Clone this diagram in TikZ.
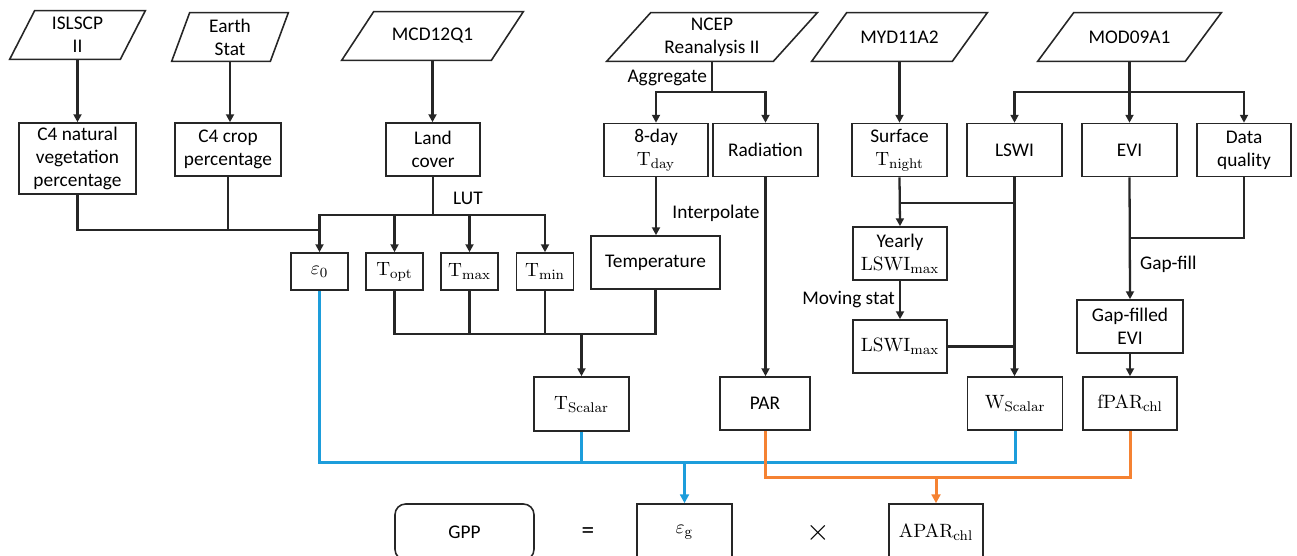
\documentclass[tikz,border=0pt]{standalone}
\usepackage[no-math]{fontspec}
\setmainfont{Carlito}
\usepackage{amsmath}
\usetikzlibrary{arrows.meta}
\definecolor{lineblue}{RGB}{29,157,219}
\definecolor{lineorange}{RGB}{245,130,50}

\begin{document}
\begin{tikzpicture}[x=0.02cm,y=-0.02cm,
  font=\fontsize{11}{13.2}\selectfont,
  procbox/.style={draw=black!85,line width=0.9pt,align=center,inner sep=1pt,minimum height=1.06cm},
  smallbox/.style={procbox,minimum width=1.14cm,minimum height=0.74cm},
  datanode/.style={align=center,inner sep=1pt,minimum height=0.96cm},
  dataedge/.style={draw=black!85,line width=0.9pt},
  flow/.style={line width=1.3pt,black!85},
  flowarrow/.style={flow,-{Triangle[length=4.5pt,width=4.5pt]}},
  blueflow/.style={line width=1.7pt,lineblue},
  orangeflow/.style={line width=1.7pt,lineorange},
  lbl/.style={inner sep=1pt}]
\useasboundingbox (0,0) rectangle (1297,555);

% data sources
\node[datanode,minimum width=2.7cm]  (isl)   at (77.5,35)  {ISLSCP\\II};
\node[datanode,minimum width=2.32cm] (earth) at (230,37)   {Earth\\Stat};
\node[datanode,minimum width=3.62cm] (mcd)   at (432.5,36) {MCD12Q1};
\node[datanode,minimum width=4.2cm]  (ncep)  at (712,37)   {NCEP\\Reanalysis II};
\node[datanode,minimum width=3.5cm]  (myd)   at (899.5,37) {MYD11A2};
\node[datanode,minimum width=3.66cm] (mod)   at (1129.5,37) {MOD09A1};
\foreach \n/\s in {isl/25,earth/18,mcd/32,ncep/44,myd/35,mod/36}
  \draw[dataedge] ([xshift=\s*0.02cm]\n.north west) -- (\n.north east)
    -- ([xshift=-\s*0.02cm]\n.south east) -- (\n.south west) -- cycle;

% first products
\node[procbox,minimum width=2.34cm,minimum height=1.42cm] (c4nat) at (77.5,158.5) {C4 natural\\vegetation\\percentage};
\node[procbox,minimum width=2.12cm] (c4crop) at (228,149.5) {C4 crop\\percentage};
\node[procbox,minimum width=1.88cm] (land)   at (433,149.5) {Land\\cover};
\node[procbox,minimum width=2.08cm] (tday)   at (656,150)   {8-day\\$\mathrm{T}_{\mathrm{day}}$};
\node[procbox,minimum width=2.1cm]  (rad)    at (765.5,150) {Radiation};
\node[procbox,minimum width=1.9cm]  (tnight) at (899.5,150) {Surface\\$\mathrm{T}_{\mathrm{night}}$};
\node[procbox,minimum width=1.9cm]  (lswi)   at (1014.5,150) {LSWI};
\node[procbox,minimum width=1.9cm]  (evi)    at (1129.5,150) {EVI};
\node[procbox,minimum width=1.88cm] (dq)     at (1244,150)  {Data\\quality};

% parameters
\node[smallbox] (eps0) at (319.5,271.5) {$\varepsilon_0$};
\node[smallbox] (topt) at (394.5,271.5) {$\mathrm{T}_{\mathrm{opt}}$};
\node[smallbox] (tmax) at (469.5,271.5) {$\mathrm{T}_{\mathrm{max}}$};
\node[smallbox] (tmin) at (545,271.5)   {$\mathrm{T}_{\mathrm{min}}$};
\node[procbox,minimum width=2.58cm] (temp)    at (655.5,262.5) {Temperature};
\node[procbox,minimum width=1.88cm] (yearly)  at (900,253.5)   {Yearly\\$\mathrm{LSWI}_{\mathrm{max}}$};
\node[procbox,minimum width=1.88cm] (lswimax) at (900,346.5)   {$\mathrm{LSWI}_{\mathrm{max}}$};
\node[procbox,minimum width=2.12cm] (gapevi)  at (1130,326.5)  {Gap-filled\\EVI};

% scalars
\node[procbox,minimum width=1.9cm,minimum height=1.08cm] (tscalar) at (581.5,404) {$\mathrm{T}_{\mathrm{Scalar}}$};
\node[procbox,minimum width=1.8cm]  (par)     at (765,403.5)  {PAR};
\node[procbox,minimum width=1.9cm]  (wscalar) at (1015,403.5) {$\mathrm{W}_{\mathrm{Scalar}}$};
\node[procbox,minimum width=1.88cm] (fpar)    at (1130,403.5) {$\mathrm{fPAR}_{\mathrm{chl}}$};

% equation
\node[procbox,rounded corners=6pt,minimum width=2.78cm,minimum height=1.12cm] (gpp) at (464.5,532) {GPP};
\node[lbl] (eq) at (588,533) {\Large =};
\node[procbox,minimum width=1.9cm,minimum height=1.12cm] (epsg) at (684.5,532) {$\varepsilon_{\mathrm{g}}$};
\node[lbl] (times) at (818,533) {\LARGE $\times$};
\node[procbox,minimum width=1.88cm,minimum height=1.12cm] (apar) at (936,532) {$\mathrm{APAR}_{\mathrm{chl}}$};

% labels
\node[lbl,anchor=east] (lblagg)  at (709,78)   {Aggregate};
\node[lbl]             (lbllut)  at (468,198)  {LUT};
\node[lbl]             (lblint)  at (716,213)  {Interpolate};
\node[lbl,anchor=east] (lblmov)  at (897,300)  {Moving stat};
\node[lbl,anchor=west] (lblgap)  at (1138,264) {Gap-fill};

% junctions
\coordinate (agg)       at (712,92);
\coordinate (modsplit)  at (1129.5,92);
\coordinate (lut)       at (433,215);
\coordinate (c4join)    at (319.5,230);
\coordinate (tjoin)     at (581.5,334);
\coordinate (nightjoin) at (1014.5,203);
\coordinate (qjoin)     at (1129.5,238);
\coordinate (bluejoin)  at (684.5,462);
\coordinate (orangejoin) at (936,477);

% black connectors
\draw[flowarrow] (isl.south) -- (isl.south |- c4nat.north);
\draw[flowarrow] (earth.south) -- (earth.south |- c4crop.north);
\draw[flowarrow] (mcd.south) -- (mcd.south |- land.north);
\draw[flow] (ncep.south) -- (agg);
\draw[flowarrow] (agg) -| (tday.north);
\draw[flowarrow] (agg) -| (rad.north);
\draw[flowarrow] (myd.south) -- (tnight.north);
\draw[flow] (mod.south) -- (modsplit);
\draw[flowarrow] (modsplit) -| (lswi.north);
\draw[flowarrow] (modsplit) -- (evi.north);
\draw[flowarrow] (modsplit) -| (dq.north);

\draw[flow] (land.south) -- (lut);
\draw[flowarrow] (lut) -| (eps0.north);
\draw[flowarrow] (lut) -| (topt.north);
\draw[flowarrow] (lut) -| (tmax.north);
\draw[flowarrow] (lut) -| (tmin.north);
\draw[flow] (c4nat.south) |- (c4join);
\draw[flow] (c4crop.south) -- (c4crop.south |- c4join);

\draw[flowarrow] (tday.south) -- (tday.south |- temp.north);
\draw[flowarrow] (rad.south) -- (rad.south |- par.north);
\draw[flow] (topt.south) |- (tjoin);
\draw[flow] (tmax.south) -- (tmax.south |- tjoin);
\draw[flow] (tmin.south) -- (tmin.south |- tjoin);
\draw[flow] (temp.south) |- (tjoin);
\draw[flowarrow] (tjoin) -- (tscalar.north);

\draw[flowarrow] (tnight.south) -- (yearly.north);
\draw[flow] (nightjoin) -- (tnight.south |- nightjoin);
\draw[flowarrow] (yearly.south) -- (lswimax.north);
\draw[flow] (lswimax.east) -- (lswimax.east -| lswi.south);
\draw[flowarrow] (lswi.south) -- (lswi.south |- wscalar.north);

\draw[flow] (dq.south) |- (qjoin);
\draw[flowarrow] (evi.south) -- (gapevi.north);
\draw[flowarrow] (gapevi.south) -- (fpar.north);

% coloured connectors
\draw[blueflow] (eps0.south) |- (wscalar.south |- bluejoin) -- (wscalar.south);
\draw[blueflow] (tscalar.south) -- (tscalar.south |- bluejoin);
\draw[blueflow,-{Triangle[length=5pt,width=5pt]}] (bluejoin) -- (epsg.north);
\draw[orangeflow] (par.south) |- (fpar.south |- orangejoin) -- (fpar.south);
\draw[orangeflow,-{Triangle[length=5pt,width=5pt]}] (orangejoin) -- (apar.north);

\end{tikzpicture}
\end{document}
